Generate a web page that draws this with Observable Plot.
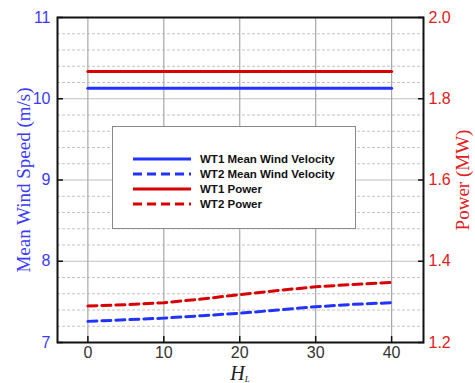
<!DOCTYPE html>
<html><head><meta charset="utf-8">
<script src="https://cdn.jsdelivr.net/npm/d3@7"></script>
<script src="https://cdn.jsdelivr.net/npm/@observablehq/plot@0.6"></script>
<style>
body{margin:0;background:#fff;}
#wrap{position:relative;width:475px;height:383px;}
#legend{position:absolute;left:112px;top:126px;width:244px;height:103px;background:#fff;border:1px solid #8a8a8a;box-sizing:border-box;font-family:"Liberation Sans",Arial,sans-serif;font-weight:bold;font-size:11.5px;color:#111;}
#legend .row{position:absolute;left:20px;height:15px;display:flex;align-items:center;}
#legend svg{margin-right:9px;}
</style></head>
<body><div id="wrap"><div id="legend"></div></div>
<script>
const hl = [0, 5, 10, 15, 20, 25, 30, 35, 40];
const wt1Speed = [10.13, 10.13, 10.13, 10.13, 10.13, 10.13, 10.13, 10.13, 10.13];
const wt2Speed = [7.26, 7.28, 7.30, 7.33, 7.36, 7.40, 7.44, 7.47, 7.49];
const wt1Power = [1.867, 1.867, 1.867, 1.867, 1.867, 1.867, 1.867, 1.867, 1.867];
const wt2Power = [1.290, 1.293, 1.298, 1.307, 1.318, 1.328, 1.337, 1.343, 1.348];
const xTicks = [0, 10, 20, 30, 40];
const speedTicks = [7, 8, 9, 10, 11];
const minorTicks = [7.2,7.4,7.6,7.8,8.2,8.4,8.6,8.8,9.2,9.4,9.6,9.8,10.2,10.4,10.6,10.8];
const seriesNames = ["WT1 Mean Wind Velocity","WT2 Mean Wind Velocity","WT1 Power","WT2 Power"];

const BLUE = "#2233ff", RED = "#d80000";
// map power (1.2..2.0) onto speed axis (7..11)
const p2s = p => 7 + (p - 1.2) * 5;
const s2p = s => 1.2 + (s - 7) * 0.2;

const rows = [];
hl.forEach((x, i) => {
  rows.push({x, y: wt1Speed[i], s: seriesNames[0]});
  rows.push({x, y: wt2Speed[i], s: seriesNames[1]});
  rows.push({x, y: p2s(wt1Power[i]), s: seriesNames[2]});
  rows.push({x, y: p2s(wt2Power[i]), s: seriesNames[3]});
});
const style = {
  [seriesNames[0]]: {stroke: BLUE, dash: null},
  [seriesNames[1]]: {stroke: BLUE, dash: "9,5"},
  [seriesNames[2]]: {stroke: RED, dash: null},
  [seriesNames[3]]: {stroke: RED, dash: "9,5"}
};

const lineMarks = seriesNames.map(n => Plot.line(rows.filter(r => r.s === n), {
  x: "x", y: "y", stroke: style[n].stroke, strokeWidth: 3, strokeDasharray: style[n].dash
}));

const chart = Plot.plot({
  width: 475, height: 383,
  marginLeft: 57, marginRight: 52, marginTop: 17, marginBottom: 41,
  style: {background: "#fff", overflow: "visible"},
  x: {domain: [-4, 44.2]},
  y: {domain: [7, 11]},
  marks: [
    Plot.gridY(minorTicks, {stroke: "#c4c4c4", strokeOpacity: 1, strokeDasharray: "3,2", strokeWidth: 1}),
    Plot.gridY(speedTicks, {stroke: "#c0c0c0", strokeOpacity: 1, strokeWidth: 1.2}),
    Plot.gridX(xTicks, {stroke: "#a8a8a8", strokeOpacity: 1, strokeWidth: 1.2}),
    ...lineMarks,
    Plot.frame({stroke: "#111", strokeWidth: 2}),
    Plot.axisX(xTicks, {tickSize: -6, tickPadding: 10, fontSize: 16, fill: "#333", stroke: "#111", strokeWidth: 1.5, label: null, fontFamily: "Liberation Sans, Arial, sans-serif"}),
    Plot.axisY(speedTicks, {anchor: "left", tickSize: -6, tickPadding: 13, fontSize: 16, fill: "#3b3bff", stroke: "#111", strokeWidth: 1.5, label: null, tickFormat: d => String(d), fontFamily: "Liberation Sans, Arial, sans-serif"}),
    Plot.axisY(speedTicks, {anchor: "right", tickSize: -6, tickPadding: 11, fontSize: 16, fill: "#e02020", stroke: "#111", strokeWidth: 1.5, label: null, tickFormat: d => s2p(d).toFixed(1), fontFamily: "Liberation Sans, Arial, sans-serif"}),
    Plot.text(["Mean Wind Speed (m/s)"], {frameAnchor: "left", textAnchor: "middle", dx: -34, rotate: -90, fontSize: 19, fill: "#3b3bff", fontFamily: "Liberation Serif, Times New Roman, serif"}),
    Plot.text(["Power (MW)"], {frameAnchor: "right", textAnchor: "middle", dx: 39, rotate: -90, fontSize: 19, fill: "#e02020", fontFamily: "Liberation Serif, Times New Roman, serif"})
  ]
});
const wrap = document.getElementById("wrap");
wrap.insertBefore(chart, wrap.firstChild);

// x-axis title H_L
const svg = d3.select(chart);
const t = svg.append("text")
  .attr("x", 57 + (475 - 57 - 52) / 2).attr("y", 380)
  .attr("text-anchor", "middle")
  .attr("font-family", "Liberation Serif, Times New Roman, serif")
  .attr("font-style", "italic").attr("font-size", 20).attr("fill", "#222");
t.append("tspan").text("H");
t.append("tspan").attr("font-size", 9).attr("dy", 2).text("L");

// legend
const lg = document.getElementById("legend");
seriesNames.forEach((n, i) => {
  const r = document.createElement("div");
  r.className = "row";
  r.style.top = (24 + i * 15) + "px";
  const st = style[n];
  r.innerHTML = `<svg width="58" height="6"><line x1="0" y1="3" x2="58" y2="3" stroke="${st.stroke}" stroke-width="3" ${st.dash ? `stroke-dasharray="${st.dash}"` : ""}/></svg><span>${n}</span>`;
  lg.appendChild(r);
});
</script></body></html>
